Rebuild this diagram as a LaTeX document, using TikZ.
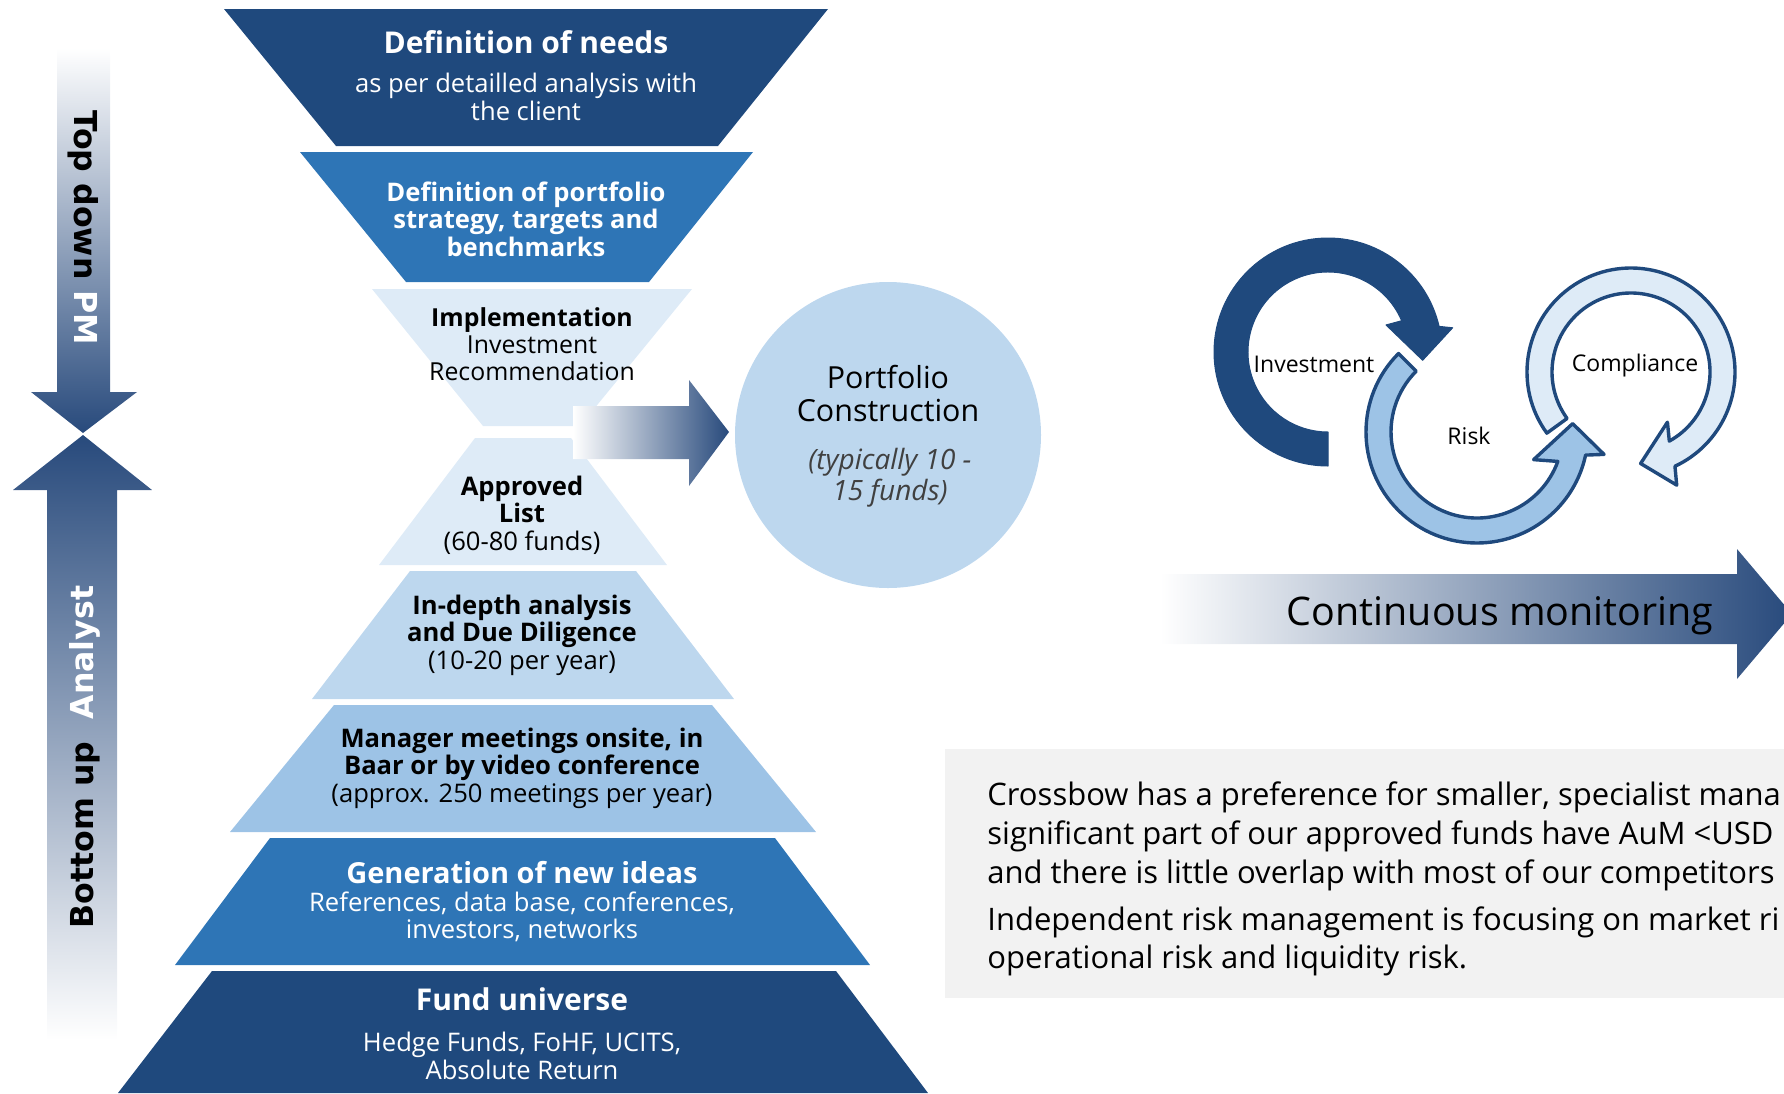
\documentclass[tikz,border=0pt]{standalone}
\usepackage{fontspec}
\setmainfont{Open Sans}
\newfontfamily\vfont{DejaVu Sans}
\usepackage{tikz}
\definecolor{navy}{HTML}{1F497D}
\definecolor{midblue}{HTML}{2E75B6}
\definecolor{paleblue}{HTML}{DEEBF7}
\definecolor{softblue}{HTML}{BDD7EE}
\definecolor{skyblue}{HTML}{9DC3E6}
\definecolor{arrowblue}{RGB}{40,74,124}
\definecolor{boxgray}{HTML}{F2F2F2}
\definecolor{italgray}{HTML}{404040}

\begin{document}
\begin{tikzpicture}[x=0.5pt, y=-0.5pt,
  body/.style={align=center, inner sep=0pt, font=\fontsize{12.8}{13.8}\selectfont},
  ttl/.style={inner sep=0pt, font=\fontsize{15}{16}\selectfont\bfseries},
  vlbl/.style={inner sep=0pt, font=\fontsize{15.8}{18}\vfont\bfseries},
  ring/.style={draw=navy, line width=1.7pt, line join=round},
  cyc/.style={inner sep=0pt, font=\fontsize{11.5}{13}\selectfont},
  para/.style={anchor=base west, inner sep=0pt, font=\fontsize{15.5}{19.75}\selectfont}]
\useasboundingbox (0,0) rectangle (1784,1093);
\clip (0,0) rectangle (1784,1093);

% top down / bottom up
\shade[top color=white, bottom color=arrowblue] (57,48) -- (110,48) -- (110,392) -- (137,392) -- (83,433) -- (31,392) -- (57,392) -- cycle;
\shade[top color=arrowblue, bottom color=white] (83,435) -- (152,490) -- (117,490) -- (117,1040) -- (47,1040) -- (47,490) -- (13,490) -- cycle;
\node[vlbl, rotate=-90] (topdown) at (83,228) {Top down \textcolor{white}{PM}};
\node[vlbl, rotate=90] (bottomup) at (85,757) {Bottom up\hspace{0.7em}\textcolor{white}{Analyst}};

% funnel
\fill[navy] (224,9) -- (828,9) -- (718,146) -- (336,146) -- cycle;
\fill[midblue] (300,152) -- (753,152) -- (649,282) -- (406,282) -- cycle;
\fill[paleblue] (372,289) -- (692,289) -- (580,426) -- (483,426) -- cycle;
% pyramid
\fill[paleblue] (475,438) -- (571,438) -- (667,565) -- (379,565) -- cycle;
\fill[softblue] (410,571) -- (636,571) -- (734,699) -- (312,699) -- cycle;
\fill[skyblue] (334,705) -- (712,705) -- (816,832) -- (230,832) -- cycle;
\fill[midblue] (270,838) -- (775,838) -- (870,965) -- (175,965) -- cycle;
\fill[navy] (212,971) -- (836,971) -- (928,1093) -- (118,1093) -- cycle;

\node[ttl, text=white] (needs) at (526,42) {Definition of needs};
\node[body, text=white] (needsub) at (526,97) {as per detailled analysis with\\the client};
\node[body, text=white, font=\fontsize{12.8}{13.8}\selectfont\bfseries] (strategy) at (526,219) {Definition of portfolio\\strategy, targets and\\benchmarks};
\node[body, font=\fontsize{12.4}{13.6}\selectfont] (impl) at (532,344) {\textbf{Implementation}\\Investment\\Recommendation};
\node[body] (approved) at (522,515) {\textbf{Approved}\\\textbf{List}\\(60-80 funds)};
\node[body] (indepth) at (522,635) {\textbf{In-depth analysis}\\\textbf{and Due Diligence}\\(10-20 per year)};
\node[body] (meetings) at (522,768) {\textbf{Manager meetings onsite, in}\\\textbf{Baar or by video conference}\\(approx. 250 meetings per year)};
\node[ttl, text=white, font=\fontsize{14.5}{16}\selectfont\bfseries] (ideas) at (522,873) {Generation of new ideas};
\node[body, text=white] (ideasub) at (522,917) {References, data base, conferences,\\investors, networks};
\node[ttl, text=white] (universe) at (522,999) {Fund universe};
\node[body, text=white] (universesub) at (522,1056) {Hedge Funds, FoHF, UCITS,\\Absolute Return};

% portfolio construction
\shade[left color=white, right color=arrowblue] (573,406) -- (689,406) -- (689,380) -- (729,432) -- (689,486) -- (689,459) -- (573,459) -- cycle;
\node[circle, fill=softblue, minimum size=153pt, inner sep=0pt] (pc) at (888,435) {};
\node[align=center, inner sep=0pt, font=\fontsize{15.2}{16.5}\selectfont] (pctitle) at (888,394) {Portfolio\\Construction};
\node[align=center, inner sep=0pt, text=italgray, font=\fontsize{14}{15.5}\selectfont\itshape] (pcnote) at (890,478) {(typically 10 -\\15 funds)};

% cycle
\begin{scope}[shift={(1631,372)}, yscale=-1]
\filldraw[ring, fill=paleblue] (216:104) arc[start angle=216, end angle=-65, radius=104] -- (-68:122) -- (-84:92) -- (-54:62) -- (-61:79) arc[start angle=-61, end angle=216, radius=79] -- cycle;
\end{scope}
\begin{scope}[shift={(1477,432)}, yscale=-1]
\filldraw[ring, fill=skyblue] (135:111) arc[start angle=135, end angle=348, radius=111] -- (350:129) -- (5:96) -- (334:63) -- (340:86) arc[start angle=340, end angle=135, radius=86] -- cycle;
\end{scope}
\begin{scope}[shift={(1328,352)}, yscale=-1]
\filldraw[navy, line width=0.5pt, line join=round] (270:114) arc[start angle=270, end angle=13, radius=114] -- (11:127) -- (-5:95) -- (25:64) -- (23:80) arc[start angle=23, end angle=270, radius=80] -- cycle;
\end{scope}
\node[cyc] (invest) at (1314,364) {Investment};
\node[cyc] (risk) at (1469,436) {Risk};
\node[cyc] (compl) at (1635,366) {Compliance};

% monitoring
\shade[left color=white, right color=arrowblue] (1160,574) -- (1737,574) -- (1737,549) -- (1792,614) -- (1737,679) -- (1737,644) -- (1160,644) -- cycle;
\node[inner sep=0pt, font=\fontsize{19.7}{22}\selectfont] (monitor) at (1500,616) {Continuous monitoring};

% text box
\fill[boxgray] (945,749) rectangle (1800,998);
\node[para] (line1) at (987,805) {Crossbow has a preference for smaller, specialist mana};
\node[para] (line2) at (987,844) {significant part of our approved funds have AuM <USD};
\node[para] (line3) at (987,883) {and there is little overlap with most of our competitors};
\node[para] (line4) at (987,930) {Independent risk management is focusing on market ri};
\node[para] (line5) at (987,968) {operational risk and liquidity risk.};
\end{tikzpicture}
\end{document}
